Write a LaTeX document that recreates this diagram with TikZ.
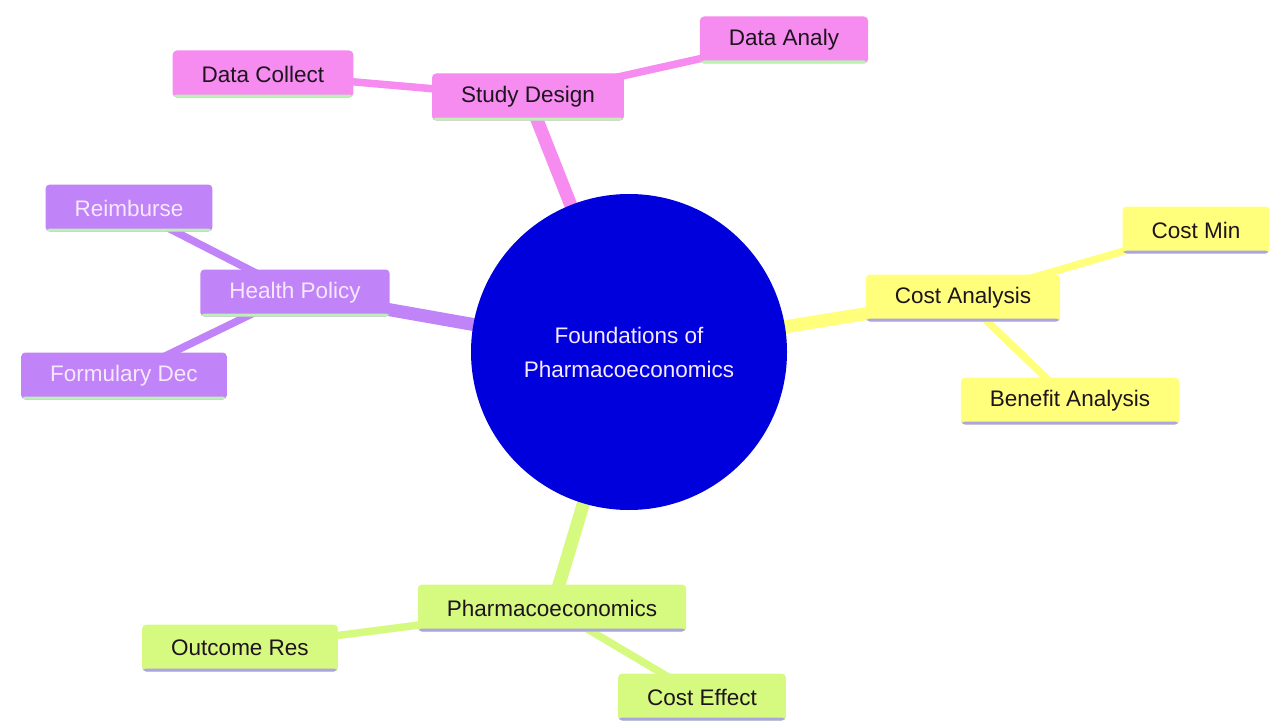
\documentclass[tikz,border=0pt]{standalone}
\usepackage{fontspec}
\setmainfont{Liberation Sans}
\usetikzlibrary{positioning}
\usetikzlibrary{backgrounds}

\definecolor{pinkfill}{HTML}{F68BF0}
\definecolor{purplefill}{HTML}{C183F8}
\definecolor{yellowfill}{HTML}{FFFF7C}
\definecolor{greenfill}{HTML}{D6F97F}
\definecolor{rootblue}{HTML}{0000DC}
\definecolor{mintline}{HTML}{BDF0B5}
\definecolor{lilacline}{HTML}{ABA5E4}
\definecolor{darktext}{HTML}{1E141E}
\definecolor{lighttext}{HTML}{F6E9FF}

\tikzset{
  topic/.style={rounded corners=4pt, inner xsep=29pt, inner ysep=0pt,
    minimum height=47pt, font=\fontsize{22.5}{26}\selectfont},
  underline/.style={path picture={
    \fill[#1] ([yshift=3pt]path picture bounding box.south west)
      rectangle (path picture bounding box.south east);}},
  design/.style={topic, fill=pinkfill, text=darktext, underline=mintline},
  policy/.style={topic, fill=purplefill, text=lighttext, underline=mintline},
  costs/.style={topic, fill=yellowfill, text=darktext, underline=lilacline},
  pharma/.style={topic, fill=greenfill, text=darktext, underline=lilacline},
  trunk/.style={line width=13pt},
  twig/.style={line width=7.5pt}
}

\begin{document}
\begin{tikzpicture}[x=1pt, y=-1pt]
\useasboundingbox (0,0) rectangle (1269,725);

% root
\node[circle, fill=rootblue, minimum size=316pt, inner sep=0pt, align=center,
  text=lighttext, font=\fontsize{22.5}{34}\selectfont] (root) at (629,352)
  {Foundations of\\Pharmacoeconomics};

% study design
\node[design] (study) at (528,97) {Study Design};
\node[design] (collect) at (263,74) {Data Collect};
\node[design] (analy) at (784,40) {Data Analy};

% health policy
\node[policy] (policy) at (295,293) {Health Policy};
\node[policy] (reimb) at (129,208) {Reimburse};
\node[policy] (formul) at (124,376) {Formulary Dec};

% cost analysis
\node[costs] (cost) at (963,298) {Cost Analysis};
\node[costs] (costmin) at (1196,230) {Cost Min};
\node[costs] (benefit) at (1070,401) {Benefit Analysis};

% pharmacoeconomics
\node[pharma] (pharm) at (552,608) {Pharmacoeconomics};
\node[pharma] (outcome) at (240,648) {Outcome Res};
\node[pharma] (effect) at (702,697) {Cost Effect};

\begin{scope}[on background layer]
\draw[trunk, pinkfill] (root.center) -- (study.center);
\draw[twig, pinkfill] (study.center) -- (collect.center);
\draw[twig, pinkfill] (study.center) -- (analy.center);
\draw[trunk, purplefill] (root.center) -- (policy.center);
\draw[twig, purplefill] (policy.center) -- (reimb.center);
\draw[twig, purplefill] (policy.center) -- (formul.center);
\draw[trunk, yellowfill] (root.center) -- (cost.center);
\draw[twig, yellowfill] (cost.center) -- (costmin.center);
\draw[twig, yellowfill] (cost.center) -- (benefit.center);
\draw[trunk, greenfill] (root.center) -- (pharm.center);
\draw[twig, greenfill] (pharm.center) -- (outcome.center);
\draw[twig, greenfill] (pharm.center) -- (effect.center);
\end{scope}
\end{tikzpicture}
\end{document}
